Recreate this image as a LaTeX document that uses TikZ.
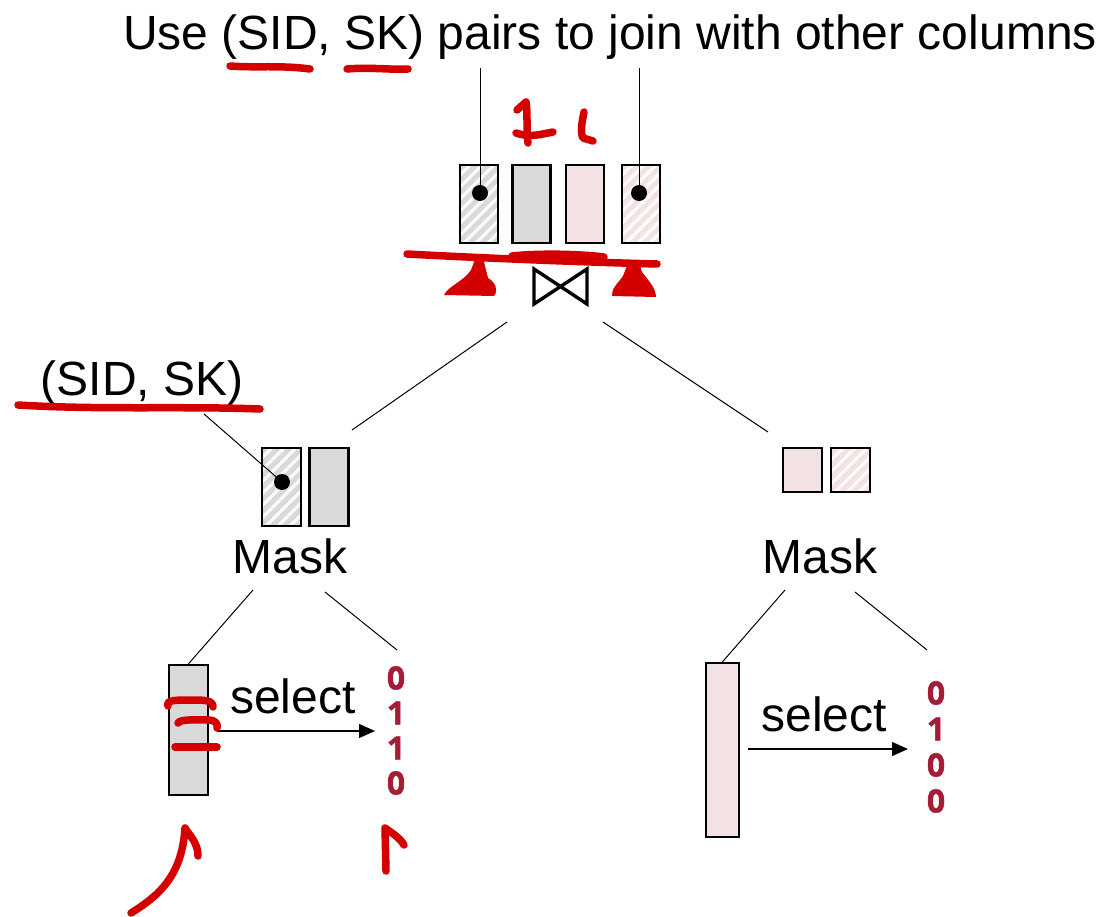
\documentclass[tikz,border=0pt]{standalone}
\usepackage{fontspec}
\setmainfont{Liberation Sans}
\newfontfamily\digitfont{Open Sans}[FakeBold=1.6]
\usetikzlibrary{arrows.meta}
\definecolor{colgray}{HTML}{D9D9D9}
\definecolor{colpink}{HTML}{F2E2E4}
\definecolor{bitred}{HTML}{A51C36}
\definecolor{ink}{HTML}{D40000}
\tikzset{
  colbox/.style={draw=black, line width=2.4pt, inner sep=0pt},
  grayfill/.style={fill=colgray},
  pinkfill/.style={fill=colpink},
  hatched/.style={path picture={
      \foreach \i in {-200,-188,...,60}{
        \draw[white, line width=3.2pt, opacity=.85]
          ([xshift=\i pt]path picture bounding box.south west) -- ++(220pt,220pt);}}},
  dot/.style={circle, fill=black, inner sep=0pt, minimum size=16pt},
  lead/.style={line width=1pt},
  label/.style={font=\fontsize{48}{52}\selectfont, inner sep=0pt},
  bit/.style={font=\digitfont\bfseries\fontsize{32}{32}\selectfont, text=bitred, inner sep=0pt},
  selarrow/.style={line width=1.2pt, -{Triangle[length=16pt,width=14pt]}},
  inkstroke/.style={draw=ink, line width=7.5pt, line cap=round, line join=round},
}
\begin{document}
\begin{tikzpicture}[x=1pt,y=-1pt]
\useasboundingbox (0,0) rectangle (1115,917);

% heading
\node[label, anchor=base] (head) at (610,50) {Use (SID, SK) pairs to join with other columns};

% joined result columns
\node[colbox, grayfill, hatched, minimum width=38pt, minimum height=78pt] (r1) at (479,204) {};
\node[colbox, grayfill, minimum width=38pt, minimum height=78pt] (r2) at (531.5,204) {};
\node[colbox, pinkfill, minimum width=38pt, minimum height=78pt] (r3) at (585,204) {};
\node[colbox, pinkfill, hatched, minimum width=38pt, minimum height=78pt] (r4) at (641,204) {};
\node[dot] (p1) at (480,193) {};
\node[dot] (p4) at (639,193) {};
\coordinate (h1) at (480,68);
\coordinate (h4) at (639,68);
\draw[lead] (h1) -- (p1.center);
\draw[lead] (h4) -- (p4.center);

% join operator
\coordinate (join) at (560.5,286.5);
\draw[line width=3.4pt, line join=miter] (534,269) -- (534,304) -- (587,269) -- (587,304) -- cycle;
\coordinate (jl) at (507,322);
\coordinate (jr) at (603,322);

% left mask output
\node[colbox, grayfill, hatched, minimum width=39pt, minimum height=78pt] (r5) at (281.5,487) {};
\node[colbox, grayfill, minimum width=39pt, minimum height=78pt] (r6) at (329,487) {};
\node[dot] (p5) at (282,482) {};
\node[label, anchor=base] (pair) at (142,395) {(SID, SK)};
\coordinate (pl) at (204,414);
\draw[lead] (pl) -- (p5.center);
\coordinate (ml) at (352,430);
\draw[lead] (jl) -- (ml);

% right mask output
\node[colbox, pinkfill, minimum width=39pt, minimum height=44pt] (r7) at (802.5,470) {};
\node[colbox, pinkfill, hatched, minimum width=39pt, minimum height=44pt] (r8) at (850.5,470) {};
\coordinate (mr) at (768,432);
\draw[lead] (jr) -- (mr);

% mask operators
\node[label, anchor=base] (maskl) at (290,573) {Mask};
\node[label, anchor=base] (maskr) at (820,573) {Mask};

% left selection
\node[colbox, grayfill, minimum width=39pt, minimum height=130pt] (b1) at (188.5,730) {};
\foreach \d [count=\k] in {0,1,1,0}
  \node[bit] (l\k) at (396,{643+35*\k}) {\d};
\coordinate (ml1) at (253,590);
\coordinate (ml2) at (325,592);
\coordinate (lb2) at (397,650);
\draw[lead] (ml1) -- (b1.north);
\draw[lead] (ml2) -- (lb2);
\coordinate (sl0) at (217,731);
\coordinate (sl1) at (375,731);
\draw[selarrow] (sl0) -- (sl1);
\node[label, anchor=base] (sell) at (293,713) {select};

% right selection
\node[colbox, pinkfill, minimum width=33pt, minimum height=174pt] (b2) at (722.5,750) {};
\foreach \d [count=\k] in {0,1,0,0}
  \node[bit] (r\k b) at (936,{657+36*\k}) {\d};
\coordinate (mr1) at (785,590);
\coordinate (mr2) at (855,592);
\coordinate (rb2) at (927,650);
\draw[lead] (mr1) -- (b2.north);
\draw[lead] (mr2) -- (rb2);
\coordinate (sr0) at (748,749);
\coordinate (sr1) at (908,749);
\draw[selarrow] (sr0) -- (sr1);
\node[label, anchor=base] (selr) at (824,731) {select};

% handwritten annotations
\draw[inkstroke] (230,66) .. controls (255,68) and (280,65) .. (310,69);
\draw[inkstroke] (347,69) .. controls (370,67) and (390,70) .. (408,69);
\draw[inkstroke] (517,110) -- (526,102) .. controls (528,115) and (526,130) .. (528,143);
\draw[inkstroke] (516,133) .. controls (530,138) and (542,134) .. (553,132);
\draw[inkstroke] (584,112) .. controls (582,122) and (580,132) .. (583,138) -- (593,141);
\draw[inkstroke] (407,254) .. controls (480,258) and (580,262) .. (657,264);
\draw[inkstroke] (512,256) .. controls (540,253) and (580,254) .. (604,257);
\fill[ink] (477,254) -- (471,270) .. controls (463,282) and (448,286) .. (444,295)
  -- (494,296) .. controls (499,290) and (495,282) .. (488,278) -- (484,262) -- cycle;
\fill[ink] (628,263) -- (623,276) .. controls (618,283) and (611,289) .. (612,296)
  -- (656,297) .. controls (656,288) and (648,280) .. (642,272) -- (639,262) -- cycle;
\draw[inkstroke] (18,405) .. controls (100,410) and (180,406) .. (260,409);
\draw[inkstroke] (168,706) .. controls (166,700) and (175,700) .. (190,700)
  .. controls (205,700) and (213,700) .. (213,707);
\draw[inkstroke] (178,723) .. controls (180,719) and (195,720) .. (208,720)
  .. controls (216,720) and (218,724) .. (217,728);
\draw[inkstroke] (175,747) -- (217,747);
\draw[inkstroke] (131,913) .. controls (160,895) and (182,875) .. (185,828)
  .. controls (190,836) and (198,843) .. (198,856);
\draw[inkstroke] (386,871) -- (385,828) .. controls (392,833) and (400,838) .. (404,845);
\end{tikzpicture}
\end{document}
